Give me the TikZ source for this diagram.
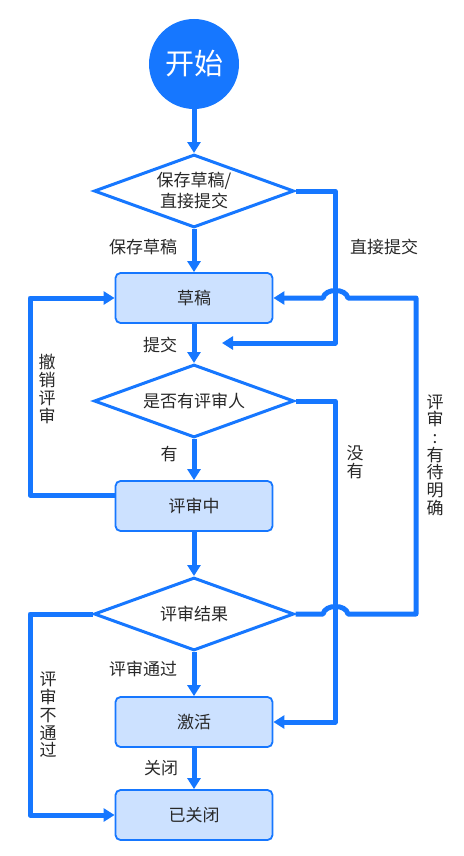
\documentclass[tikz,border=0pt]{standalone}
\usepackage{fontspec}
\setmainfont{Noto Sans CJK SC}
\usetikzlibrary{shapes.geometric,arrows.meta}
\definecolor{fb}{RGB}{22,119,255}
\definecolor{boxfill}{RGB}{204,225,255}
\definecolor{txt}{RGB}{40,40,40}
\begin{document}
\begin{tikzpicture}[x=1pt,y=-1pt,
  line/.style={draw=fb,line width=5pt,line join=round},
  conn/.style={line,-{Triangle[width=13pt,length=11pt]}},
  stepbox/.style={rectangle,rounded corners=5pt,draw=fb,line width=1.8pt,fill=boxfill,minimum width=157pt,minimum height=50pt,inner sep=0,font=\fontsize{17}{20}\selectfont,text=txt},
  decide/.style={diamond,draw=fb,line width=3pt,fill=white,minimum width=200pt,minimum height=73pt,shape aspect=2.74,inner sep=0,align=center,font=\fontsize{17}{21}\selectfont,text=txt},
  lbl/.style={font=\fontsize{17}{20}\selectfont,text=txt,inner sep=0},
  vlbl/.style={font=\fontsize{17}{17.7}\selectfont,text=txt,inner sep=0,align=center},
]
\useasboundingbox (0,0) rectangle (463,856);

% nodes
\node[circle,fill=fb,minimum size=90pt,inner sep=0,text=white,font=\fontsize{29}{30}\selectfont] (start) at (194,64) {开始};
\node[decide] (d1) at (194,191) {保存草稿/\\直接提交};
\node[stepbox] (b1) at (194,298) {草稿};
\node[decide] (d2) at (194,401) {是否有评审人};
\node[stepbox] (b2) at (194,506) {评审中};
\node[decide] (d3) at (194,614) {评审结果};
\node[stepbox] (b3) at (194,722) {激活};
\node[stepbox] (b4) at (194,815) {已关闭};

\coordinate (dz) at (222,343);
\coordinate (b2w) at (b2.west |- 0,495);

% vertical main flow
\draw[conn] (start) -- (d1);
\draw[conn] (d1) -- (b1);
\draw[conn] (b1) -- (d2);
\draw[conn] (d2) -- (b2);
\draw[conn] (b2) -- (d3);
\draw[conn] (d3) -- (b3);
\draw[conn] (b3) -- (b4);

% side branches
\draw[conn] (d1.east) -- (335,191) -- (335,343) -- (dz);
\draw[conn] (d2.east) -- (335,401) -- (335,722) -- (b3.east);
\draw[conn] (b2w) -- (30,495) -- (30,298) -- (b1.west);
\draw[conn] (d3.west) -- (30,614) -- (30,815) -- (b4.west);
\draw[conn] (d3.east) -- (323,614) .. controls (325,604) and (346,604) .. (348,614)
   -- (416,614) -- (416,298) -- (348,298) .. controls (346,288) and (325,288) .. (323,298) -- (b1.east);

% labels
\node[lbl] (l1) at (143,247) {保存草稿};
\node[lbl] (l2) at (384,247) {直接提交};
\node[lbl] (l3) at (160,345) {提交};
\node[lbl] (l4) at (169,454) {有};
\node[vlbl] (l5) at (355,462) {没\\有};
\node[vlbl] (l6) at (47,389) {撤\\销\\评\\审};
\node[vlbl] (l7) at (435,455) {评\\审\\:\\有\\待\\明\\确};
\node[lbl] (l8) at (143,669) {评审通过};
\node[lbl] (l9) at (161,768) {关闭};
\node[vlbl] (l10) at (48,715) {评\\审\\不\\通\\过};
\end{tikzpicture}
\end{document}
